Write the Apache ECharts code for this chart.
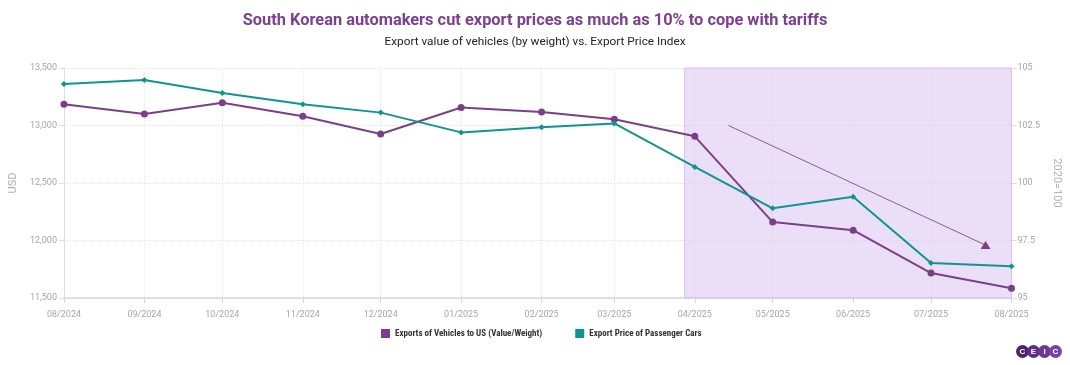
<!DOCTYPE html>
<html>
<head>
<meta charset="utf-8">
<script src="https://cdn.jsdelivr.net/npm/echarts@6/dist/echarts.min.js"></script>
<style>
html,body{margin:0;padding:0;background:#fff;}
#c{width:1070px;height:365px;}
</style>
</head>
<body>
<div id="c"></div>
<script>
const months = ['2024-08-01','2024-09-01','2024-10-01','2024-11-01','2024-12-01','2025-01-01','2025-02-01','2025-03-01','2025-04-01','2025-05-01','2025-06-01','2025-07-01','2025-08-01'];
const exportsValueWeight = [13185, 13100, 13197, 13080, 12926, 13157, 13117, 13055, 12906, 12160, 12090, 11717, 11584];
const exportPriceIndex = [104.30, 104.48, 103.91, 103.42, 103.06, 102.20, 102.42, 102.59, 100.70, 98.90, 99.40, 96.52, 96.38];
const seriesNames = ['Exports of Vehicles to US (Value/Weight)', 'Export Price of Passenger Cars'];
const shadeRange = ['2025-03-28', '2025-08-01'];
const arrowStart = ['2025-04-14', 13000];
const arrowEnd = ['2025-07-22', 11960];

const purple = '#7b3f88';
const teal = '#0f9590';
const labelColor = '#a6a6a6';

const chart = echarts.init(document.getElementById('c'));
chart.setOption({
  animation: false,
  textStyle: { fontFamily: 'Roboto' },
  title: [
    { text: 'South Korean automakers cut export prices as much as 10% to cope with tariffs', left: 'center', top: 8,
      textStyle: { fontSize: 16.4, fontWeight: 'bold', color: '#7d3f8f', fontFamily: 'Roboto' } },
    { text: 'Export value of vehicles (by weight) vs. Export Price Index', left: 'center', top: 31,
      textStyle: { fontSize: 11.8, fontWeight: 'normal', color: '#222', fontFamily: 'Roboto' } }
  ],
  legend: {
    bottom: 22, left: 376, icon: 'rect', itemWidth: 9, itemHeight: 9, itemGap: 33,
    textStyle: { fontSize: 9, fontWeight: 'bold', color: '#333', fontFamily: "'Roboto Condensed', 'Liberation Sans Narrow', 'DejaVu Sans Condensed', 'Arial Narrow', Roboto" },
    data: seriesNames
  },
  grid: { left: 62, right: 55, top: 68, bottom: 67 },
  xAxis: {
    type: 'time', min: months[0], max: months[months.length - 1],
    splitNumber: 12, minInterval: 28 * 86400000, maxInterval: 31 * 86400000,
    axisLine: { lineStyle: { color: '#d8d8d8', width: 1.5 } },
    axisTick: { show: true, length: 5, lineStyle: { color: '#d8d8d8' } },
    axisLabel: { color: labelColor, fontSize: 9, margin: 12, showMinLabel: true, showMaxLabel: true,
      formatter: v => echarts.time.format(v, '{MM}/{yyyy}', false) },
    splitLine: { show: true, lineStyle: { type: 'dotted', color: '#e6e6e6' } }
  },
  yAxis: [
    { type: 'value', min: 11500, max: 13500, interval: 500, name: 'USD', nameLocation: 'middle', nameGap: 42,
      nameTextStyle: { color: '#b0b0b0', fontSize: 11 },
      axisLine: { show: true, lineStyle: { color: '#dedede' } },
      axisTick: { show: true, length: 5, lineStyle: { color: '#dedede' } },
      axisLabel: { color: labelColor, fontSize: 9, margin: 7, formatter: v => v.toLocaleString('en-US') },
      splitLine: { show: true, lineStyle: { type: 'dotted', color: '#e2e2e2' } } },
    { type: 'value', min: 95, max: 105, interval: 2.5, name: '2020=100', nameLocation: 'middle', nameGap: 34, nameRotate: -90,
      nameTextStyle: { color: '#b0b0b0', fontSize: 11 },
      axisLine: { show: true, lineStyle: { color: '#dedede' } },
      axisTick: { show: true, length: 5, lineStyle: { color: '#dedede' } },
      axisLabel: { color: labelColor, fontSize: 9, margin: 6 },
      splitLine: { show: false } }
  ],
  series: [
    { name: seriesNames[0], type: 'line', yAxisIndex: 0,
      data: months.map((m, i) => [m, exportsValueWeight[i]]),
      color: purple, lineStyle: { width: 2, color: purple }, symbol: 'circle', symbolSize: 7,
      itemStyle: { color: purple }, z: 3,
      markArea: { silent: true, itemStyle: { color: 'rgba(224,206,245,0.65)', borderColor: '#d6c4ec', borderWidth: 1 },
        data: [[{ xAxis: shadeRange[0] }, { xAxis: shadeRange[1] }]] },
      markLine: { silent: true, symbol: ['none', 'none'],
        lineStyle: { type: 'solid', width: 1, color: '#8a5898' }, label: { show: false },
        data: [[{ coord: arrowStart }, { coord: arrowEnd }]] },
      markPoint: { silent: true, symbol: 'triangle', symbolSize: [10, 8], label: { show: false },
        itemStyle: { color: '#7b3f88' },
        data: [{ coord: arrowEnd }] } },
    { name: seriesNames[1], type: 'line', yAxisIndex: 1,
      data: months.map((m, i) => [m, exportPriceIndex[i]]),
      color: teal, lineStyle: { width: 2, color: teal }, symbol: 'diamond', symbolSize: 6,
      itemStyle: { color: teal }, z: 3 }
  ],
  graphic: [{
    type: 'group', right: 8, bottom: 7,
    children: ['C','E','I','C'].map((ch, i) => ({
      type: 'group', x: i * 11, y: 0,
      children: [
        { type: 'circle', shape: { cx: 6, cy: 6, r: 6.5 }, style: { fill: ['#4b2570','#5e2d85','#6f3795','#7d41a3'][i] } },
        { type: 'text', x: 6, y: 6, style: { text: ch, fill: '#fff', fontSize: 8, fontWeight: 'bold', align: 'center', verticalAlign: 'middle' } }
      ]
    }))
  }]
});
</script>
</body>
</html>
